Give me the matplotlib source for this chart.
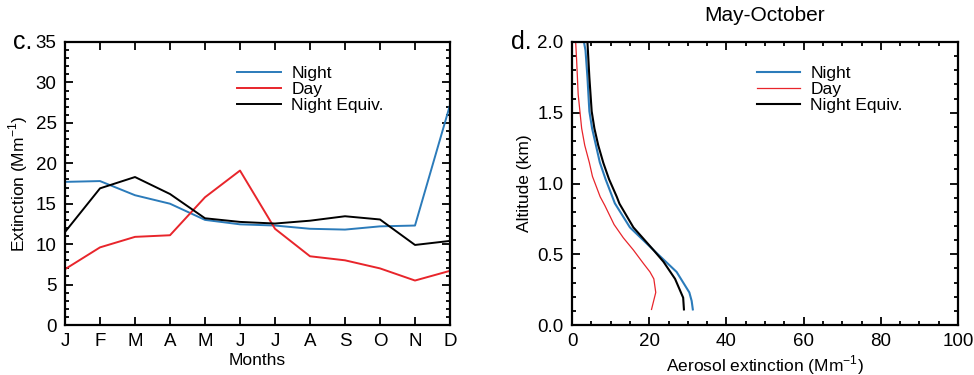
import numpy as np
import matplotlib
matplotlib.use("Agg")
import matplotlib.pyplot as plt
from matplotlib.ticker import MultipleLocator

plt.rcParams['font.family'] = ['Liberation Sans', 'DejaVu Sans']
plt.rcParams['mathtext.fontset'] = 'custom'
plt.rcParams['mathtext.rm'] = 'Liberation Sans'

# panel c: monthly mean extinction
months = ["J", "F", "M", "A", "M", "J", "J", "A", "S", "O", "N", "D"]
night = [17.7, 17.8, 16.05, 15.0, 13.0, 12.45, 12.3, 11.9, 11.8, 12.2, 12.3, 27.2]
day = [6.9, 9.6, 10.9, 11.1, 15.8, 19.1, 11.9, 8.5, 8.0, 7.0, 5.5, 6.7]
night_equiv = [11.5, 16.9, 18.3, 16.2, 13.2, 12.75, 12.55, 12.9, 13.45, 13.05, 9.9, 10.4]

# panel d: May-October profiles (extinction, altitude km)
night_ext = [31.3, 31.0, 30.4, 27.1, 21.1, 15.0, 11.1, 8.7, 7.2, 6.2, 5.2, 4.5, 4.0, 3.5, 3.1]
night_alt = [0.11, 0.17, 0.23, 0.375, 0.53, 0.69, 0.86, 1.03, 1.15, 1.27, 1.39, 1.51, 1.75, 1.94, 2.0]
day_ext = [20.6, 21.7, 21.2, 20.2, 18.5, 15.9, 13.3, 10.9, 8.5, 7.3, 5.3, 4.5, 3.3, 2.5, 1.6, 1.2, 0.95]
day_alt = [0.11, 0.23, 0.326, 0.375, 0.435, 0.53, 0.616, 0.71, 0.845, 0.906, 1.05, 1.147, 1.27, 1.39, 1.63, 1.87, 2.0]
equiv_ext = [29.0, 28.8, 26.7, 23.7, 21.1, 15.9, 12.3, 11.6, 9.6, 8.1, 6.8, 5.8, 5.1, 4.5, 4.0]
equiv_alt = [0.11, 0.193, 0.326, 0.447, 0.53, 0.69, 0.857, 0.906, 1.03, 1.147, 1.27, 1.39, 1.51, 1.75, 2.0]

blue = "#2b7bba"
red = "#e8252b"

fig = plt.figure(figsize=(9.74, 3.75), dpi=100)
ax1 = fig.add_axes([65 / 974, 50 / 375, 385 / 974, 283 / 375])
ax2 = fig.add_axes([572 / 974, 50 / 375, 386 / 974, 283 / 375])


def style(ax):
    for s in ax.spines.values():
        s.set_linewidth(1.6)
    ax.tick_params(which="both", direction="in", top=True, right=True,
                   labelsize=13.5, width=1.3, pad=6)
    ax.tick_params(which="major", length=6)
    ax.tick_params(which="minor", length=3)


x = np.arange(len(months))
ax1.plot(x, night, color=blue, lw=1.4, label="Night")
ax1.plot(x, day, color=red, lw=1.4, label="Day")
ax1.plot(x, night_equiv, color="black", lw=1.4, label="Night Equiv.")
ax1.set_xlim(0, 11)
ax1.set_ylim(0, 35)
ax1.set_xticks(x)
ax1.set_xticklabels(months)
ax1.yaxis.set_major_locator(MultipleLocator(5))
ax1.yaxis.set_minor_locator(MultipleLocator(1))
style(ax1)
ax1.set_xlabel("Months", fontsize=12.5, labelpad=2)
ax1.set_ylabel("Extinction (Mm$^{-1}$)", fontsize=12.5, labelpad=4)
ax1.legend(loc="upper left", bbox_to_anchor=(0.43, 0.94), frameon=False,
           fontsize=12.5, handlelength=2.5, handletextpad=0.6,
           labelspacing=0.05, borderaxespad=0)
ax1.text(-0.085, 1.0, "c.", transform=ax1.transAxes, fontsize=18,
         ha="right", va="center")

ax2.plot(night_ext, night_alt, color=blue, lw=1.5, label="Night")
ax2.plot(day_ext, day_alt, color=red, lw=0.9, label="Day")
ax2.plot(equiv_ext, equiv_alt, color="black", lw=1.5, label="Night Equiv.")
ax2.set_xlim(0, 100)
ax2.set_ylim(0, 2.0)
ax2.xaxis.set_major_locator(MultipleLocator(20))
ax2.xaxis.set_minor_locator(MultipleLocator(5))
ax2.yaxis.set_major_locator(MultipleLocator(0.5))
ax2.yaxis.set_minor_locator(MultipleLocator(0.1))
ax2.yaxis.set_major_formatter(matplotlib.ticker.FormatStrFormatter("%.1f"))
style(ax2)
ax2.set_xlabel("Aerosol extinction (Mm$^{-1}$)", fontsize=12.5, labelpad=2)
ax2.set_ylabel("Altitude (km)", fontsize=12.5, labelpad=4)
ax2.set_title("May-October", fontsize=15, pad=15)
ax2.legend(loc="upper left", bbox_to_anchor=(0.46, 0.94), frameon=False,
           fontsize=12.5, handlelength=2.5, handletextpad=0.6,
           labelspacing=0.05, borderaxespad=0)
ax2.text(-0.105, 1.0, "d.", transform=ax2.transAxes, fontsize=18,
         ha="right", va="center")

fig.savefig("out.png", dpi=100)
